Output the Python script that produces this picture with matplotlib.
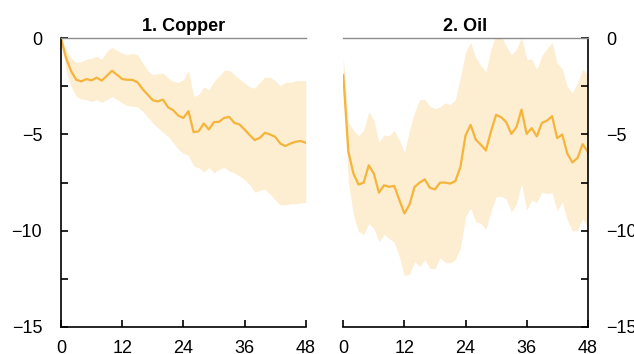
import numpy as np
import matplotlib
matplotlib.use("Agg")
import matplotlib.pyplot as plt
from matplotlib.ticker import MultipleLocator

plt.rcParams["font.family"] = ["Liberation Sans", "DejaVu Sans"]

# months after the shock
months = np.arange(0, 49)

# copper response (percent) with confidence band
copper_mid = [0, -1.03, -1.72, -2.16, -2.24, -2.12, -2.19, -2.05, -2.2, -1.95,
              -1.69, -1.9, -2.12, -2.16, -2.16, -2.29, -2.64, -2.93, -3.22, -3.28,
              -3.19, -3.59, -3.74, -4.02, -4.14, -3.79, -4.88, -4.83, -4.43, -4.74,
              -4.36, -4.34, -4.14, -4.09, -4.4, -4.48, -4.74, -5.03, -5.29, -5.17,
              -4.91, -5.0, -5.12, -5.47, -5.6, -5.47, -5.38, -5.34, -5.43]
copper_hi = [0, -0.6, -1.03, -1.26, -1.22, -1.09, -1.05, -0.95, -1.09, -0.69,
             -0.47, -0.64, -0.78, -0.86, -0.78, -0.86, -1.29, -1.67, -1.9, -1.84,
             -1.81, -2.07, -2.24, -2.29, -2.16, -1.67, -3.02, -2.93, -2.53, -2.67,
             -2.24, -1.98, -1.67, -1.67, -1.9, -2.12, -2.33, -2.53, -2.59, -2.29,
             -2.02, -2.02, -2.21, -2.47, -2.29, -2.29, -2.21, -2.21, -2.21]
copper_lo = [0, -1.72, -2.5, -3.02, -3.16, -3.19, -3.28, -3.19, -3.33, -3.19,
             -3.02, -3.19, -3.36, -3.5, -3.53, -3.57, -3.79, -4.09, -4.4, -4.66,
             -4.88, -5.09, -5.43, -5.78, -5.98, -6.09, -6.64, -6.72, -6.95, -6.72,
             -6.98, -6.81, -6.72, -6.9, -7.0, -7.15, -7.35, -7.6, -8.0, -7.9,
             -7.85, -8.1, -8.4, -8.65, -8.65, -8.6, -8.6, -8.55, -8.53]

# oil response (percent) with confidence band
oil_mid = [-1.91, -5.9, -7.04, -7.6, -7.5, -6.6, -7.04, -8.02, -7.64, -7.72,
           -7.67, -8.4, -9.1, -8.64, -7.72, -7.5, -7.33, -7.77, -7.85, -7.5,
           -7.5, -7.55, -7.42, -6.69, -5.05, -4.5, -5.26, -5.53, -5.83, -4.84,
           -3.98, -4.1, -4.36, -4.97, -4.62, -3.71, -4.97, -4.67, -5.1, -4.4,
           -4.28, -4.05, -5.19, -5.0, -6.0, -6.45, -6.22, -5.5, -5.9]
oil_hi = [-1.0, -4.36, -4.78, -5.07, -4.78, -3.81, -4.26, -5.41, -5.03, -5.07,
          -4.78, -5.29, -5.93, -4.78, -3.84, -3.19, -3.19, -3.53, -3.66, -3.57,
          -3.36, -3.45, -3.19, -2.02, -0.74, -0.22, -1.0, -1.43, -1.74, -0.57,
          0.2, 0.1, -0.4, -0.88, -0.57, 0.05, -1.09, -1.09, -1.62, -0.9,
          -0.53, -0.22, -1.29, -1.6, -2.53, -2.83, -2.31, -1.62, -1.86]
oil_lo = [-3.0, -7.5, -9.19, -10.05, -10.2, -9.62, -9.88, -10.57, -10.2, -10.4,
          -10.6, -11.35, -12.33, -12.26, -11.6, -11.86, -11.5, -11.95, -11.98, -11.4,
          -11.64, -11.67, -11.5, -10.88, -9.28, -8.81, -9.53, -9.62, -9.93, -8.98,
          -8.24, -8.2, -8.36, -9.02, -8.6, -7.55, -8.93, -8.41, -8.53, -7.98,
          -8.07, -8.02, -8.98, -8.5, -9.45, -10.02, -9.97, -9.36, -9.79]

line_col = "#F5B43A"
band_col = "#FDEDD1"

fig = plt.figure(figsize=(6.34, 3.54), dpi=100)
ax1 = fig.add_axes([0.0962, 0.0763, 0.3861, 0.8157])
ax2 = fig.add_axes([0.5415, 0.0763, 0.3855, 0.8157])

panels = [(ax1, "1. Copper", copper_mid, copper_lo, copper_hi, "left"),
          (ax2, "2. Oil", oil_mid, oil_lo, oil_hi, "right")]

for ax, title, mid, lo, hi, side in panels:
    ax.fill_between(months, lo, hi, color=band_col, linewidth=0)
    ax.plot(months, mid, color=line_col, linewidth=1.6)
    ax.set_xlim(0, 48)
    ax.set_ylim(-15, 0)
    ax.set_xticks([0, 12, 24, 36, 48])
    ax.set_yticks([0, -5, -10, -15])
    ax.set_yticklabels(["0", "\u22125", "\u221210", "\u221215"])
    ax.yaxis.set_minor_locator(MultipleLocator(2.5))
    ax.set_title(title, fontsize=13, fontweight="bold", pad=5)

    ax.spines["top"].set_color("#8c8c8c")
    ax.spines["top"].set_linewidth(1.0)
    ax.spines["bottom"].set_linewidth(1.2)
    if side == "left":
        ax.spines["right"].set_visible(False)
        ax.spines["left"].set_linewidth(1.2)
        ax.yaxis.tick_left()
    else:
        ax.spines["left"].set_visible(False)
        ax.spines["right"].set_linewidth(1.2)
        ax.yaxis.tick_right()
    ax.tick_params(axis="y", which="both", direction="in", length=5, width=1.2,
                   labelsize=13, pad=13.5)
    ax.tick_params(axis="x", which="both", direction="in", length=5, width=1.2,
                   labelsize=13, pad=9.5, top=False)

fig.savefig("out.png", dpi=100)
